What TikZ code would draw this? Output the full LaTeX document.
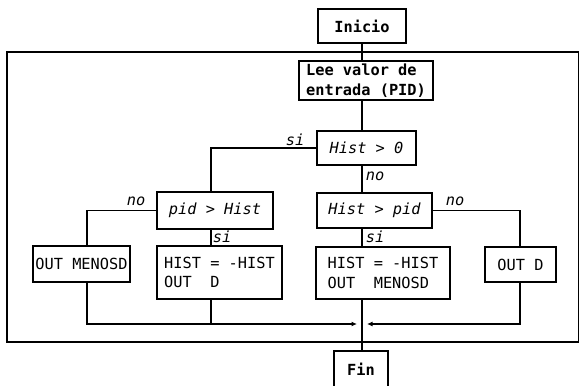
\documentclass[tikz,border=0pt]{standalone}
\usepackage{fontspec}
\setmainfont{DejaVu Sans Mono}
\usetikzlibrary{arrows.meta}
\begin{document}
\begin{tikzpicture}[x=1pt,y=-1pt,line width=1.2pt,
  font=\fontsize{15.3}{19.5}\selectfont,
  caja/.style 2 args={draw,minimum width=#1pt,minimum height=#2pt,inner sep=2pt,align=left},
  rama/.style={font=\fontsize{15.3}{19.5}\selectfont\itshape,inner sep=0pt},
  flecha/.style={-{Latex[length=5.5pt,width=5pt]}}]
\useasboundingbox (0,0) rectangle (580,385);
% columnas de las lineas
\coordinate (c1) at (87,0);
\coordinate (c2) at (211,0);
\coordinate (c3) at (362,0);
\coordinate (c4) at (520,0);
\coordinate (bus) at (0,324);
\draw (7,52) rectangle (578.5,342);
\node[caja={88}{34},font=\fontsize{15.3}{19.5}\selectfont\bfseries] (inicio) at (362,26) {Inicio};
\node[caja={134}{39},font=\fontsize{15.3}{19.5}\selectfont\bfseries] (lee) at (366,80.5) {Lee valor de\\entrada (PID)};
\node[caja={99}{34},font=\fontsize{15.3}{19.5}\selectfont\itshape] (hist0) at (366.5,148) {Hist > 0};
\node[caja={116}{37},font=\fontsize{15.3}{19.5}\selectfont\itshape] (pidhist) at (215,210.5) {pid > Hist};
\node[caja={115}{35},font=\fontsize{15.3}{19.5}\selectfont\itshape] (histpid) at (374.5,210.5) {Hist > pid};
\node[caja={97}{36}] (outmen) at (81.5,264) {OUT MENOSD};
\node[caja={125}{53}] (histd) at (219.5,272.5) {HIST = -HIST\\OUT\ \ D};
\node[caja={134}{52}] (histmen) at (383,273) {HIST = -HIST\\OUT\ \ MENOSD};
\node[caja={71}{35}] (outd) at (520.5,264.5) {OUT D};
\node[caja={54}{37},font=\fontsize{15.3}{19.5}\selectfont\bfseries] (fin) at (361,369.5) {Fin};
\draw (c3 |- inicio.south) -- (c3 |- lee.north);
\draw (c3 |- lee.south) -- (c3 |- hist0.north);
\draw (c3 |- hist0.south) -- (c3 |- histpid.north);
\draw (hist0.west) -| (c2 |- pidhist.north);
\draw (pidhist.west) -| (c1 |- outmen.north);
\draw (c2 |- pidhist.south) -- (c2 |- histd.north);
\draw (histpid.east) -| (c4 |- outd.north);
\draw (c3 |- histpid.south) -- (c3 |- histmen.north);
\draw[flecha] (c1 |- outmen.south) |- ([xshift=-5pt]c3 |- bus);
\draw (c2 |- histd.south) -- (c2 |- bus);
\draw[flecha] (c4 |- outd.south) |- ([xshift=5pt]c3 |- bus);
\draw (c3 |- histmen.south) -- (c3 |- fin.north);
\node[rama] at (295,140) {si};
\node[rama] at (136,201) {no};
\node[rama] at (222,237) {si};
\node[rama] at (375,176) {no};
\node[rama] at (455,201) {no};
\node[rama] at (375,237) {si};
\end{tikzpicture}
\end{document}
